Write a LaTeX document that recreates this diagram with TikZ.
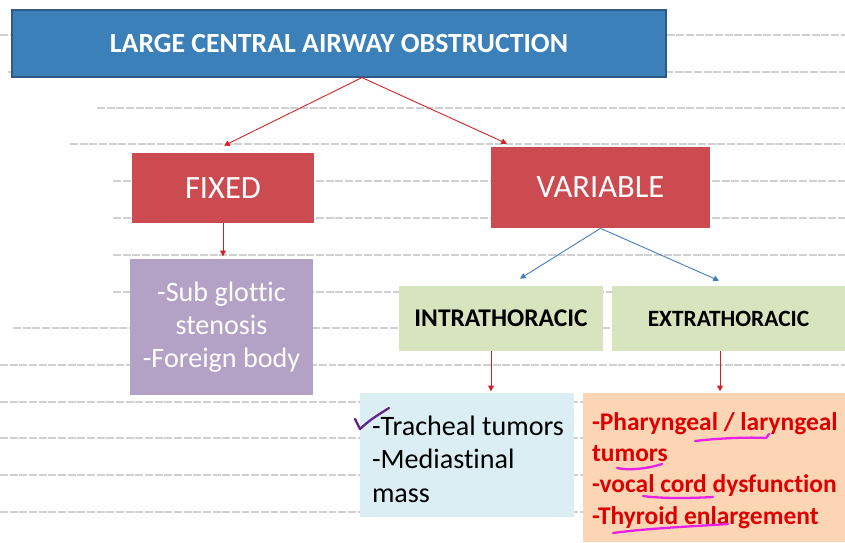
\documentclass[tikz,border=0pt]{standalone}
\usepackage{fontspec}
\setmainfont{Carlito}[Ligatures=NoCommon]
\usetikzlibrary{arrows.meta,positioning,calc}
\definecolor{headblue}{RGB}{60,128,186}
\definecolor{headedge}{RGB}{45,90,135}
\definecolor{kindred}{RGB}{203,75,80}
\definecolor{listpurple}{RGB}{180,161,198}
\definecolor{sitegreen}{RGB}{215,228,189}
\definecolor{listblue}{RGB}{218,238,243}
\definecolor{listorange}{RGB}{252,213,181}
\definecolor{inkred}{RGB}{222,0,0}
\definecolor{linkred}{RGB}{212,32,36}
\definecolor{linkblue}{RGB}{62,125,190}
\definecolor{penpurple}{RGB}{96,36,140}
\definecolor{penpink}{RGB}{232,32,232}
\definecolor{rulegrey}{RGB}{208,208,208}

\begin{document}
\begin{tikzpicture}[x=0.02cm, y=-0.02cm,
    box/.style={rectangle, inner sep=0pt, anchor=center},
    headbox/.style={box, fill=headblue, draw=headedge, line width=0.7pt,
                    minimum width=13.08cm, minimum height=1.34cm, text=white,
                    font=\fontsize{15.8}{18}\selectfont\bfseries},
    kindbox/.style={box, fill=kindred, text=white, font=\fontsize{18.5}{22}\selectfont},
    sitebox/.style={box, fill=sitegreen, minimum height=1.3cm},
    listtext/.style={inner sep=0pt, align=left, anchor=west},
    redlink/.style={draw=linkred, line width=0.5pt, -{Triangle[length=3.2pt,width=3.2pt]}},
    bluelink/.style={draw=linkblue, line width=0.5pt, -{Triangle[length=3.2pt,width=3.2pt]}},
    ruling/.style={rulegrey, line width=1pt, dash pattern=on 4.5pt off 1pt},
    penline/.style={line width=1.3pt, line cap=round, line join=round}
]
    \useasboundingbox (0,0) rectangle (845,542);

    % faint ruled lines behind the chart
    \foreach \y/\x in {35/0, 72/8, 108/97, 144/70, 181/113, 218/113, 255/113, 292/113,
                       328/13, 365/0, 402/0, 438/0, 475/0, 512/0}
        \draw[ruling] (\x,\y) -- (845,\y);

    \node[headbox] (head) at (339,43.5) {LARGE CENTRAL AIRWAY OBSTRUCTION};

    \node[kindbox, minimum width=3.64cm, minimum height=1.4cm] (fixed) at (223,188) {FIXED};
    \node[kindbox, minimum width=4.38cm, minimum height=1.62cm] (variable) at (600.5,187.5) {VARIABLE};

    \node[box, fill=listpurple, text=white, align=center, minimum width=3.66cm,
          minimum height=2.72cm, font=\fontsize{16}{18.8}\selectfont] (fixedlist) at (221.5,327)
          {-Sub glottic\\stenosis\\-Foreign body};

    \node[sitebox, minimum width=4.08cm, font=\fontsize{14.5}{17}\selectfont\bfseries] (intra) at (501,318.5) {INTRATHORACIC};
    \node[sitebox, minimum width=4.66cm, font=\fontsize{13.3}{16}\selectfont\bfseries] (extra) at (728.5,318.5) {EXTRATHORACIC};

    \node[box, fill=listblue, minimum width=4.28cm, minimum height=2.48cm] (intralist) at (467,455) {};
    \node[listtext, font=\fontsize{16}{19}\selectfont] (intraitems) at ($(intralist.west)+(12,4)$)
          {-Tracheal tumors\\-Mediastinal\\mass};
    \node[box, fill=listorange, minimum width=5.3cm, minimum height=2.98cm] (extralist) at (715.5,467.5) {};
    \node[listtext, text=inkred, font=\fontsize{14.5}{17.8}\selectfont\bfseries] (extraitems) at ($(extralist.west)+(9,3)$)
          {-Pharyngeal / laryngeal\\tumors\\-vocal cord dysfunction\\-Thyroid enlargement};

    \draw[redlink] ($(head.south)+(23,0)$) -- ($(fixed.north)+(1,-7)$);
    \draw[redlink] ($(head.south)+(23,0)$) -- ($(variable.north)+(-93.5,-3)$);
    \draw[redlink] (fixed.south) -- ($(fixed.south)+(0,33)$);

    \draw[bluelink] (variable.south) -- ($(intra.north)+(19,-7)$);
    \draw[bluelink] (variable.south) -- ($(extra.north)+(-9.5,-5)$);

    \draw[redlink] ($(intra.south)+(-10,0)$) -- ($(intra.south)+(-10,40)$);
    \draw[redlink] ($(extra.south)+(-8.5,0)$) -- ($(extra.south)+(-8.5,40)$);

    % pen marks
    \draw[penline, penpurple] (355,419) -- (360,429) .. controls (370,420) .. (389,408);
    \draw[penline, penpink] (695,441) .. controls (720,438) and (750,437) .. (766,438) -- (769,434);
    \draw[penline, penpink] (617,468) .. controls (630,471) and (650,468) .. (662,464);
    \draw[penline, penpink] (643,496) .. controls (665,499) and (695,498) .. (713,497);
    \draw[penline, penpink] (613,533) .. controls (650,528) and (700,526) .. (728,524);
\end{tikzpicture}
\end{document}
